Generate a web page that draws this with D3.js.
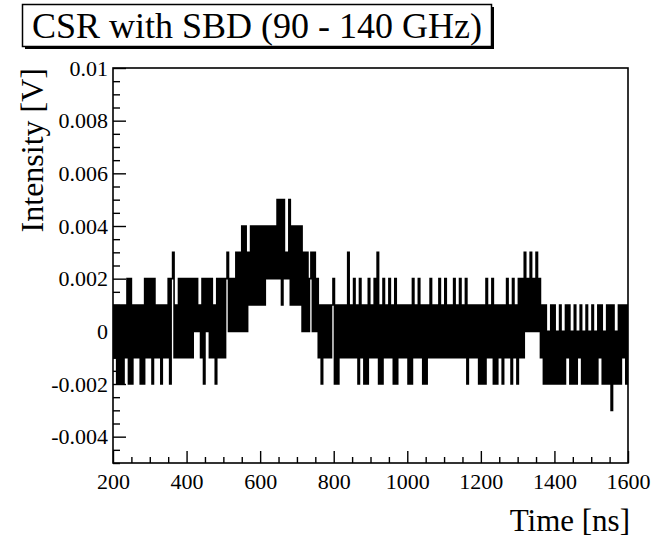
<!DOCTYPE html>
<html>
<head>
<meta charset="utf-8">
<script src="https://cdn.jsdelivr.net/npm/d3@7"></script>
<style>
  body { margin: 0; background: #fff; }
  text { font-family: "Liberation Serif", "Times New Roman", serif; fill: #000; }
</style>
</head>
<body>
<svg id="chart" width="653" height="540"></svg>
<script>
var chartTitle = "CSR with SBD (90 - 140 GHz)";
var xTitle = "Time [ns]";
var yTitle = "Intensity [V]";
var xTicks = [200, 400, 600, 800, 1000, 1200, 1400, 1600];
var yTicks = [-0.004, -0.002, 0, 0.002, 0.004, 0.006, 0.008, 0.01];
var yTickLabels = ["-0.004", "-0.002", "0", "0.002", "0.004", "0.006", "0.008", "0.01"];

// scope samples, one every 4 ns from 200 ns, in mV (1 mV steps)
var sampleStartNs = 200;
var sampleStepNs = 4;
var traceMv = [
  1,-1,1,-2,1,-2,1,-2,1,-1,2,-2,2,-2,1,-1,1,-1,1,-2,1,-2,2,-1,2,      // 200
  -1,2,-2,2,-1,1,-1,1,-2,1,-1,1,-1,2,-2,2,3,-1,1,-1,2,-1,2,-1,2,      // 300
  -1,2,-1,2,-1,2,0,2,0,1,-1,2,-2,2,0,2,-1,2,-1,1,-2,2,-1,2,-1,        // 400
  2,-1,2,3,0,2,0,2,0,3,0,3,0,4,0,4,0,3,1,4,1,4,1,4,1,                 // 500
  4,1,4,1,4,2,4,2,4,2,4,2,5,2,5,1,5,2,3,2,5,1,4,1,4,                  // 600
  1,4,1,4,0,3,0,3,0,2,3,0,3,0,2,-1,1,-2,1,-1,1,-1,1,-1,1,             // 700
  2,-2,1,-2,1,-1,1,-1,1,-1,3,-1,1,-1,2,-1,1,-2,2,-1,1,-2,1,-2,2,      // 800
  -1,1,-1,2,-1,3,-2,1,-2,2,-1,1,-1,2,-1,1,-2,2,-2,1,-1,1,-1,1,-1,     // 900
  1,-2,1,-2,2,-1,1,-1,2,-1,1,-2,1,-2,1,-1,2,-1,1,-1,1,-1,2,-1,1,      // 1000
  -1,2,-1,1,-1,1,-1,2,-1,1,-1,2,-1,1,-1,2,-2,1,-1,1,-1,1,-1,1,-2,     // 1100
  1,-2,1,-2,2,-1,1,-1,2,-2,1,-2,1,-1,1,-2,1,-1,2,-1,1,-2,2,-1,1,      // 1200
  -2,2,-1,2,-1,3,0,2,0,3,0,2,0,3,0,2,-1,1,-2,1,-2,0,-2,1,-2,          // 1300
  1,-2,0,-2,1,-2,0,-2,1,-1,1,-2,0,-2,1,-2,0,-1,1,-2,0,-2,1,-2,0,      // 1400
  -2,1,-2,0,-2,1,-1,1,-2,0,-2,1,-2,1,-3,1,-2,0,-2,1,-2,1,-1,1,-2,     // 1500
  1                                                                   // 1600
];

var svg = d3.select("#chart");
var frame = {left: 113, right: 628, top: 68, bottom: 463};

var x = d3.scaleLinear().domain([200, 1600]).range([frame.left, frame.right]);
var y = d3.scaleLinear().domain([-0.005, 0.01]).range([frame.bottom, frame.top]);

var points = traceMv.map(function (v, i) {
  return {t: sampleStartNs + i * sampleStepNs, v: v / 1000};
});

svg.append("clipPath").attr("id", "plot-clip")
  .append("rect")
  .attr("x", frame.left).attr("y", frame.top)
  .attr("width", frame.right - frame.left)
  .attr("height", frame.bottom - frame.top);

var line = d3.line()
  .x(function (d) { return x(d.t); })
  .y(function (d) { return y(d.v); })
  .curve(d3.curveStep);

svg.append("path")
  .datum(points)
  .attr("clip-path", "url(#plot-clip)")
  .attr("fill", "none")
  .attr("stroke", "#000")
  .attr("stroke-width", 1.6)
  .attr("d", line);

// x axis, ticks inside the frame
var xMinor = d3.range(200, 1601, 50).filter(function (v) { return xTicks.indexOf(v) < 0; });
svg.append("g")
  .attr("transform", "translate(0," + frame.bottom + ")")
  .call(d3.axisBottom(x).tickValues(xMinor).tickSize(-6).tickFormat(""))
  .call(function (g) { g.select(".domain").remove(); });
var xAxis = svg.append("g")
  .attr("transform", "translate(0," + frame.bottom + ")")
  .call(d3.axisBottom(x).tickValues(xTicks).tickSize(-12).tickPadding(10).tickFormat(d3.format("d")));
xAxis.select(".domain").remove();
xAxis.selectAll("text").style("font-size", "22px").style("font-family", null);

// y axis
var yMinor = d3.range(-10, 21).map(function (k) { return k * 0.0005; })
  .filter(function (v) { return Math.round(v * 10000) % 20 !== 0; });
svg.append("g")
  .attr("transform", "translate(" + frame.left + ",0)")
  .call(d3.axisLeft(y).tickValues(yMinor).tickSize(-7).tickFormat(""))
  .call(function (g) { g.select(".domain").remove(); });
var yAxis = svg.append("g")
  .attr("transform", "translate(" + frame.left + ",0)")
  .call(d3.axisLeft(y).tickValues(yTicks).tickSize(-13).tickPadding(5)
    .tickFormat(function (d, i) { return yTickLabels[i]; }));
yAxis.select(".domain").remove();
yAxis.selectAll("text").style("font-size", "22px").style("font-family", null);

svg.selectAll(".tick line").attr("stroke", "#000").attr("stroke-width", 1.4);

svg.append("rect")
  .attr("x", frame.left).attr("y", frame.top)
  .attr("width", frame.right - frame.left)
  .attr("height", frame.bottom - frame.top)
  .attr("fill", "none")
  .attr("stroke", "#000")
  .attr("stroke-width", 1.6);

// axis titles
svg.append("text")
  .attr("x", 630).attr("y", 531)
  .attr("text-anchor", "end")
  .style("font-size", "31px")
  .text(xTitle);

svg.append("text")
  .attr("transform", "translate(43," + frame.top + ") rotate(-90)")
  .attr("text-anchor", "end")
  .style("font-size", "32px")
  .text(yTitle);

// title box with shadow
svg.append("rect")
  .attr("x", 25).attr("y", 7).attr("width", 469).attr("height", 42)
  .attr("fill", "#000");
svg.append("rect")
  .attr("x", 22.5).attr("y", 4.5).attr("width", 469).attr("height", 42)
  .attr("fill", "#fff").attr("stroke", "#000").attr("stroke-width", 1.5);
svg.append("text")
  .attr("x", 257).attr("y", 38)
  .attr("text-anchor", "middle")
  .style("font-size", "36px")
  .text(chartTitle);
</script>
</body>
</html>
